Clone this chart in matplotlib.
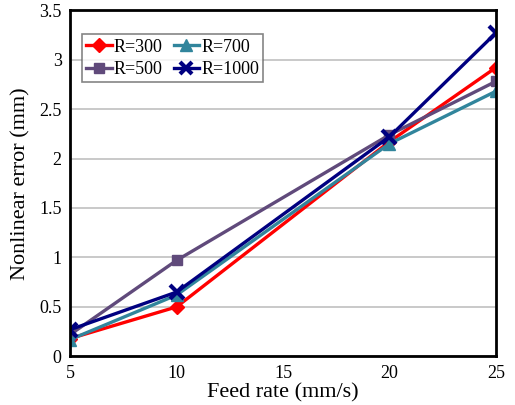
import matplotlib.pyplot as plt
from matplotlib.ticker import FuncFormatter

plt.rcParams['font.family'] = ['Liberation Serif', 'DejaVu Serif']

feed_rate = [5, 10, 20, 25]
err_300 = [0.18, 0.50, 2.17, 2.92]
err_500 = [0.22, 0.97, 2.24, 2.78]
err_700 = [0.17, 0.62, 2.15, 2.68]
err_1000 = [0.27, 0.65, 2.22, 3.27]

fig = plt.figure(figsize=(5.15, 4.05), dpi=100)
ax = fig.add_axes([0.136, 0.12, 0.827, 0.855])

ax.plot(feed_rate, err_300, color='#ff0000', marker='D', markersize=7.5, lw=2.4, label='R=300')
ax.plot(feed_rate, err_500, color='#604a7b', marker='s', markersize=7.5, lw=2.4, label='R=500')
ax.plot(feed_rate, err_700, color='#31859c', marker='^', markersize=9, lw=2.4, label='R=700')
ax.plot(feed_rate, err_1000, color='#000080', marker='x', markersize=10, mew=3, lw=2.4, label='R=1000')

ax.set_xlim(5, 25)
ax.set_ylim(0, 3.5)
ax.set_xticks([5, 10, 15, 20, 25])
ax.set_yticks([0, 0.5, 1, 1.5, 2, 2.5, 3, 3.5])
ax.yaxis.set_major_formatter(FuncFormatter(lambda v, p: '%g' % v))
ax.yaxis.grid(True, color='#c0c0c0', lw=1.2)
ax.set_axisbelow(True)
ax.tick_params(length=0, labelsize=13, pad=6)
for s in ax.spines.values():
    s.set_linewidth(2)

ax.set_xlabel('Feed rate (mm/s)', fontsize=16, labelpad=1)
ax.set_ylabel('Nonlinear error (mm)', fontsize=16, labelpad=6)

leg = ax.legend(ncol=2, loc='upper left', bbox_to_anchor=(0.028, 0.931), fontsize=13,
                frameon=True, fancybox=False, edgecolor='#666666', handlelength=1.4,
                handletextpad=0.12, columnspacing=0.6, borderpad=0.25, labelspacing=0.3,
                borderaxespad=0, markerscale=0.9)
leg.get_frame().set_linewidth(1.2)

plt.savefig('out.png', dpi=100)
